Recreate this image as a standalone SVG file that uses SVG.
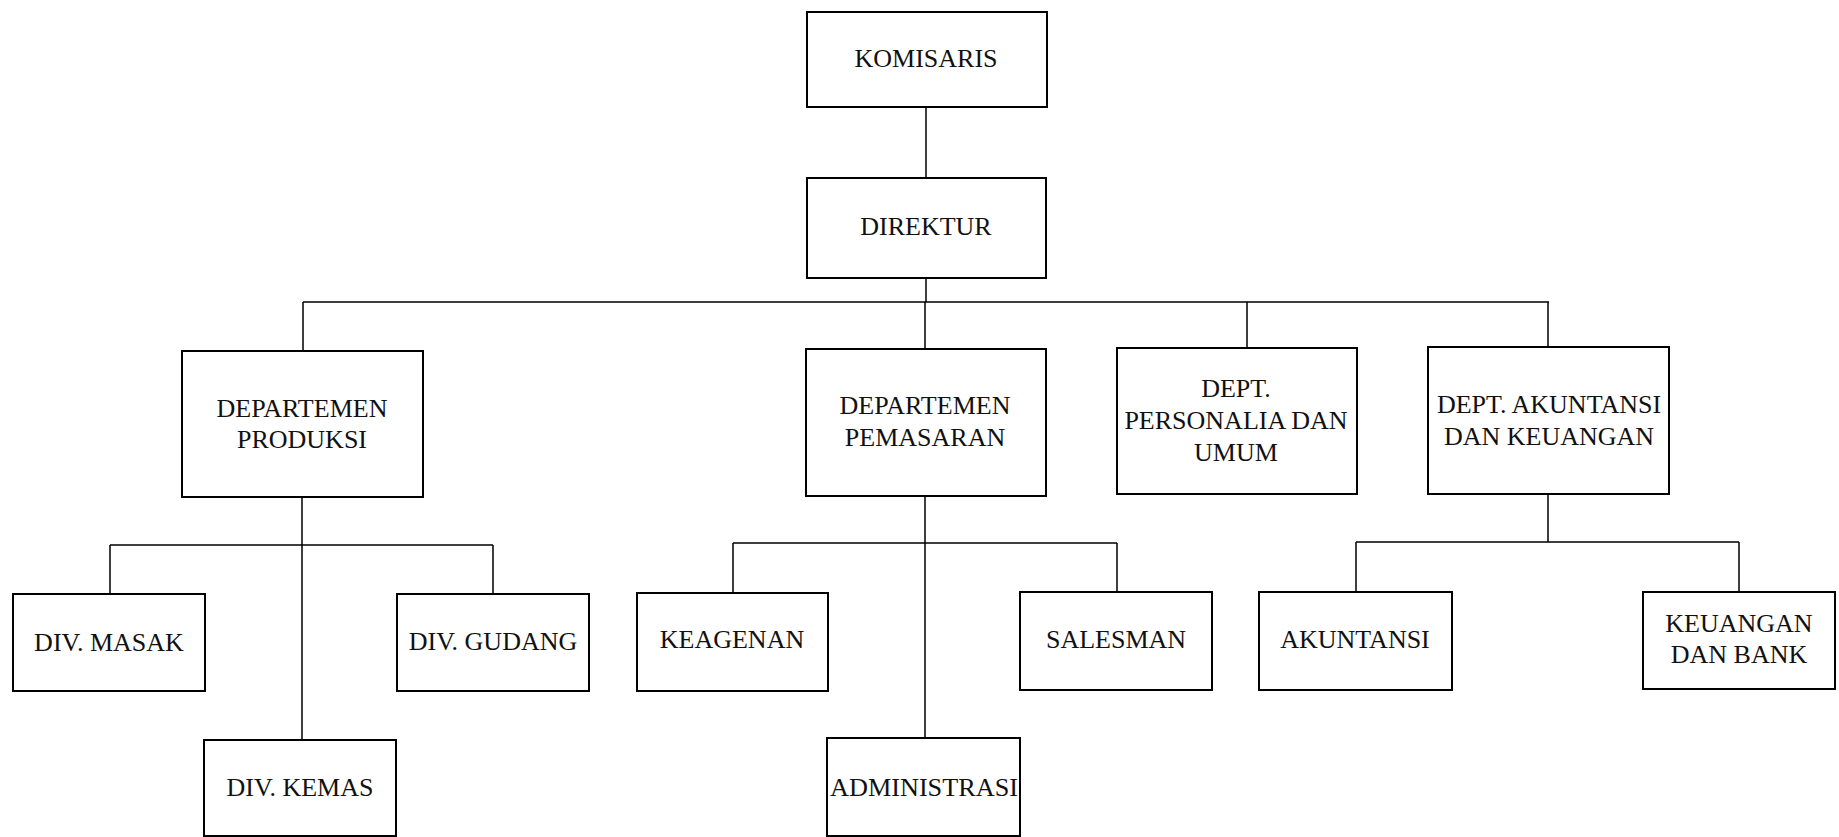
<svg xmlns="http://www.w3.org/2000/svg" width="1839" height="837" viewBox="0 0 1839 837">
<style>
.box{fill:#fff;stroke:#000;stroke-width:2}
.ln{fill:none;stroke:#000;stroke-width:1.5}
text{font-family:"Liberation Serif","Times New Roman",serif;font-size:26px;fill:#111;text-anchor:middle}
</style>
<rect width="1839" height="837" fill="#fff"/>
<g id="connectors">
<path class="ln" d="M926 107V178M926 278V302M303 302H1549M303 302V351M925 302V349M1247 302V348M1548 302V347"/>
<path class="ln" d="M302 497V740M110 545H493M110 545V594M493 545V594"/>
<path class="ln" d="M925 496V738M733 543H1117M733 543V593M1117 543V592"/>
<path class="ln" d="M1548 494V542M1356 542H1739M1356 542V592M1739 542V592"/>
</g>
<g id="komisaris"><rect class="box" x="807" y="12" width="240" height="95"/><text x="926" y="67">KOMISARIS</text></g>
<g id="direktur"><rect class="box" x="807" y="178" width="239" height="100"/><text x="926" y="235">DIREKTUR</text></g>
<g id="dept-produksi"><rect class="box" x="182" y="351" width="241" height="146"/><text x="302" y="417">DEPARTEMEN</text><text x="302" y="448">PRODUKSI</text></g>
<g id="dept-pemasaran"><rect class="box" x="806" y="349" width="240" height="147"/><text x="925" y="414">DEPARTEMEN</text><text x="925" y="446">PEMASARAN</text></g>
<g id="dept-personalia"><rect class="box" x="1117" y="348" width="240" height="146"/><text x="1236" y="397">DEPT.</text><text x="1236" y="429">PERSONALIA DAN</text><text x="1236" y="461">UMUM</text></g>
<g id="dept-akuntansi"><rect class="box" x="1428" y="347" width="241" height="147"/><text x="1549" y="413">DEPT. AKUNTANSI</text><text x="1549" y="445">DAN KEUANGAN</text></g>
<g id="div-masak"><rect class="box" x="13" y="594" width="192" height="97"/><text x="109" y="651">DIV. MASAK</text></g>
<g id="div-gudang"><rect class="box" x="397" y="594" width="192" height="97"/><text x="493" y="650">DIV. GUDANG</text></g>
<g id="div-kemas"><rect class="box" x="204" y="740" width="192" height="96"/><text x="300" y="796">DIV. KEMAS</text></g>
<g id="keagenan"><rect class="box" x="637" y="593" width="191" height="98"/><text x="732" y="648">KEAGENAN</text></g>
<g id="salesman"><rect class="box" x="1020" y="592" width="192" height="98"/><text x="1116" y="648">SALESMAN</text></g>
<g id="administrasi"><rect class="box" x="827" y="738" width="193" height="98"/><text x="924" y="796" textLength="188" lengthAdjust="spacingAndGlyphs">ADMINISTRASI</text></g>
<g id="akuntansi"><rect class="box" x="1259" y="592" width="193" height="98"/><text x="1355" y="648">AKUNTANSI</text></g>
<g id="keuangan-bank"><rect class="box" x="1643" y="592" width="192" height="97"/><text x="1739" y="632">KEUANGAN</text><text x="1739" y="663">DAN BANK</text></g>
</svg>
